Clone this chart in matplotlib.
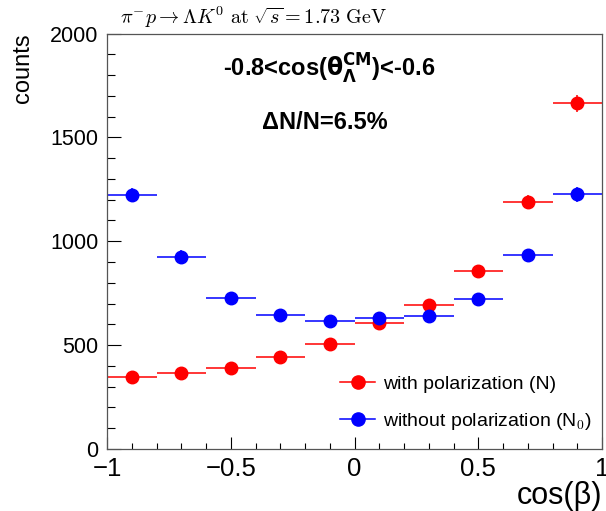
import numpy as np
import matplotlib.pyplot as plt
from matplotlib.ticker import MultipleLocator
from matplotlib.lines import Line2D

plt.rcParams['font.family'] = ['Liberation Sans', 'DejaVu Sans']
plt.rcParams['mathtext.fontset'] = 'cm'

# bin centres of cos(beta)
cos_beta = [-0.9, -0.7, -0.5, -0.3, -0.1, 0.1, 0.3, 0.5, 0.7, 0.9]
# counts with polarization (N)
n_pol = [347, 366, 390, 443, 505, 605, 693, 858, 1190, 1664]
# counts without polarization (N0)
n_nopol = [1222, 926, 728, 644, 615, 631, 642, 722, 934, 1226]

fig = plt.figure(figsize=(6.06, 5.11), dpi=100)
ax = fig.add_axes([0.1766, 0.1213, 0.8168, 0.8131])

x = np.array(cos_beta)
colors = ['red', 'blue']
for vals, col in zip([n_pol, n_nopol], colors):
    v = np.array(vals)
    ax.errorbar(x, v, xerr=0.1, yerr=np.sqrt(v), fmt='o', color=col,
                ms=9, elinewidth=1.1, capsize=0)

ax.set_xlim(-1, 1)
ax.set_ylim(0, 2000)
ax.xaxis.set_major_locator(MultipleLocator(0.5))
ax.xaxis.set_minor_locator(MultipleLocator(0.1))
ax.yaxis.set_major_locator(MultipleLocator(500))
ax.yaxis.set_minor_locator(MultipleLocator(100))
ax.tick_params(which='both', direction='in', top=False, right=False, width=0.8)
ax.tick_params(axis='y', which='major', length=10, labelsize=15.5, pad=6)
ax.tick_params(axis='y', which='minor', length=5.5)
ax.tick_params(axis='x', which='major', length=8.6, labelsize=18.5, pad=6)
ax.tick_params(axis='x', which='minor', length=4.3)
ax.set_xticks([-1, -0.5, 0, 0.5, 1])
ax.set_xticklabels(['\u22121', '\u22120.5', '0', '0.5', '1'])
for s in ax.spines.values():
    s.set_linewidth(0.9)
    s.set_color('#555555')

ax.set_ylabel('counts', fontsize=17, loc='top', labelpad=12)
ax.set_xlabel('cos(\u03b2)', fontsize=22, loc='right', labelpad=0)

fig.text(0.198, 0.966, r'$\pi^{-}p \rightarrow \Lambda K^{0}\ \mathrm{at}\ \sqrt{s} = 1.73\ \mathrm{GeV}$',
         fontsize=14.5, ha='left', va='center')
ax.text(0.448, 0.9145, r'-0.8<cos($\mathbf{\theta_{\Lambda}^{CM}}$)<-0.6', transform=ax.transAxes,
        fontsize=17, fontweight='bold', ha='center', va='center', math_fontfamily='dejavusans')
ax.text(0.44, 0.785, '\u0394N/N=6.5%', transform=ax.transAxes,
        fontsize=17, fontweight='bold', ha='center', va='center')

handles = [Line2D([], [], color=c, marker='o', ms=9.5, lw=1.1) for c in colors]
labels = ['with polarization (N)', 'without polarization (N$_{0}$)']
ax.legend(handles, labels, loc='upper left', bbox_to_anchor=(0.471, 0.178), frameon=False,
          fontsize=14, handlelength=1.8, handletextpad=0.4, labelspacing=0.95,
          borderaxespad=0, borderpad=0)

fig.savefig('out.png', dpi=100)
